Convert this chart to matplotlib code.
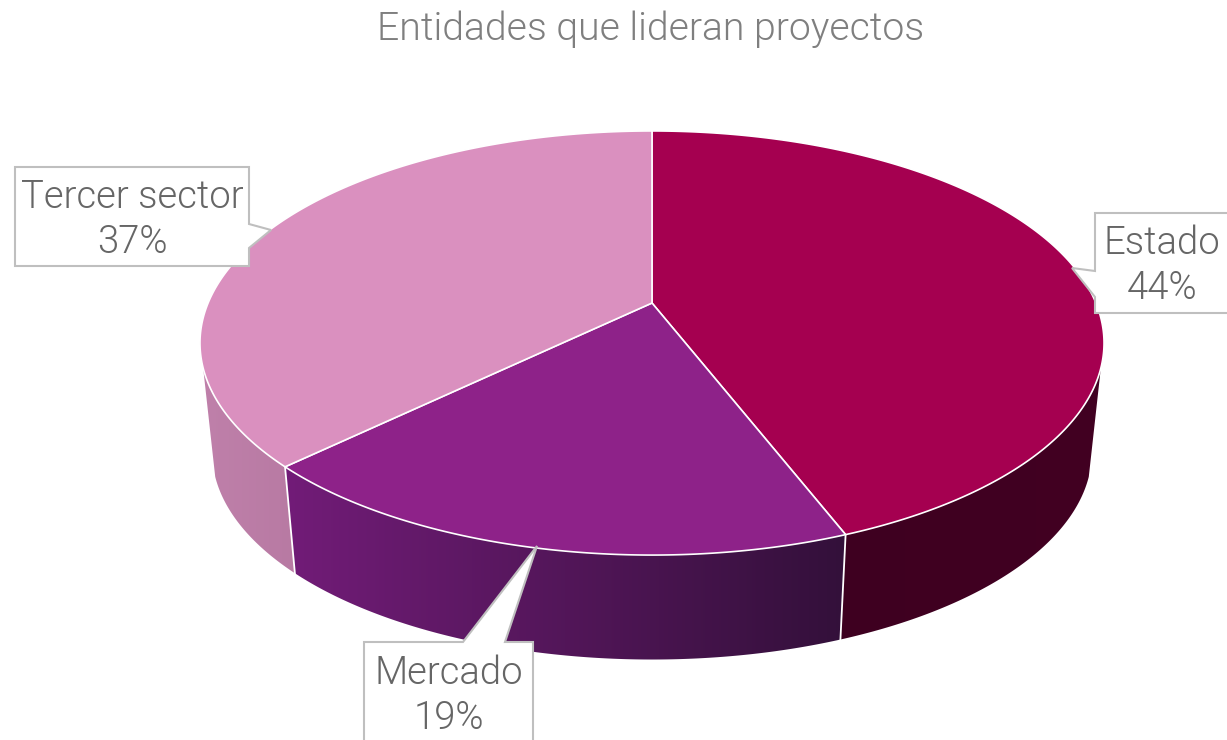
import numpy as np
import matplotlib
matplotlib.use("Agg")
import matplotlib.pyplot as plt
from matplotlib.colors import LinearSegmentedColormap
from matplotlib.patches import Polygon

labels = ["Estado", "Mercado", "Tercer sector"]
values = [44.15, 18.6, 37.25]
title = "Entidades que lideran proyectos"

top_colors = ["#A50050", "#8E2289", "#DA90BF"]
wall_colors = [("#3E0020", "#420022"), ("#721C78", "#33103A"), ("#BF80AA", "#B87AA3")]
text_color = "#666666"
box_color = "#BFBFBF"

# perspective of the pie, in pixels
cx = 652
persp = 0.1887
top_y, top_a, top_c = 303, 204.5, 443.9
low_y, low_a, low_c = 413, 200, 432
side_limit = (107.5, 252.5)


def rim(deg, y0, a, c):
    # deg is clockwise from 12 o'clock
    t = np.radians(deg)
    u, v = np.sin(t), np.cos(t)
    w = 1 + persp * v
    return cx + c * u / w, y0 - a * v / w


fig = plt.figure(figsize=(12.27, 7.4), dpi=100)
ax = fig.add_axes([0, 0, 1, 1])
ax.set_xlim(0, 1227)
ax.set_ylim(740, 0)
ax.axis("off")

edges = np.concatenate([[0], np.cumsum(values)]) * 3.6

# walls first
for i in range(len(values)):
    a0 = max(edges[i], side_limit[0])
    a1 = min(edges[i + 1], side_limit[1])
    deg = np.linspace(a0, a1, 150)
    xt, yt = rim(deg, top_y, top_a, top_c)
    xb, yb = rim(deg, low_y, low_a, low_c)
    pts = np.column_stack([np.r_[xt, xb[::-1]], np.r_[yt, yb[::-1]]])
    poly = Polygon(pts, closed=True, fc="none", ec="none")
    ax.add_patch(poly)
    cmap = LinearSegmentedColormap.from_list("w", wall_colors[i])
    im = ax.imshow(np.linspace(0, 1, 256)[None, :], cmap=cmap, aspect="auto",
                   extent=[pts[:, 0].min(), pts[:, 0].max(), pts[:, 1].max(), pts[:, 1].min()],
                   zorder=1)
    im.set_clip_path(poly)
ax.set_xlim(0, 1227)
ax.set_ylim(740, 0)

# separators on the wall
for e in edges[1:3]:
    xt, yt = rim(e, top_y, top_a, top_c)
    xb, yb = rim(e, low_y, low_a, low_c)
    ax.plot([xt, xb], [yt, yb], color="white", lw=1.3, zorder=2)

# top of the pie
for i in range(len(values)):
    deg = np.linspace(edges[i], edges[i + 1], 300)
    x, y = rim(deg, top_y, top_a, top_c)
    pts = np.column_stack([np.r_[cx, x], np.r_[top_y, y]])
    ax.add_patch(Polygon(pts, closed=True, fc=top_colors[i], ec="white", lw=1.2, zorder=3))

# callouts
boxes = [
    [(1095, 213), (1232, 213), (1232, 313), (1095, 313), (1095, 297), (1072, 268), (1095, 271)],
    [(364, 642), (463, 642), (537, 546), (505, 642), (533, 642), (533, 745), (364, 745)],
    [(15, 167), (249, 167), (249, 224), (271, 230), (249, 248), (249, 266), (15, 266)],
]
label_pos = [(1162, 243, 288), (449, 673, 718), (132, 197, 242)]
for i in range(len(labels)):
    ax.add_patch(Polygon(boxes[i], closed=True, fc="white", ec=box_color, lw=1.5, zorder=4))
    x, y1, y2 = label_pos[i]
    ax.text(x, y1, labels[i], ha="center", va="center", fontsize=27.5, color=text_color,
            family="Roboto", fontweight=300, zorder=5)
    ax.text(x, y2, f"{values[i]:.0f}%", ha="center", va="center", fontsize=27.5, color=text_color,
            family="Roboto", fontweight=300, zorder=5)

ax.text(651, 29, title, ha="center", va="center", fontsize=28.2, color="#7F7F7F",
        family="Roboto", fontweight=300)

fig.savefig("out.png", dpi=100)
